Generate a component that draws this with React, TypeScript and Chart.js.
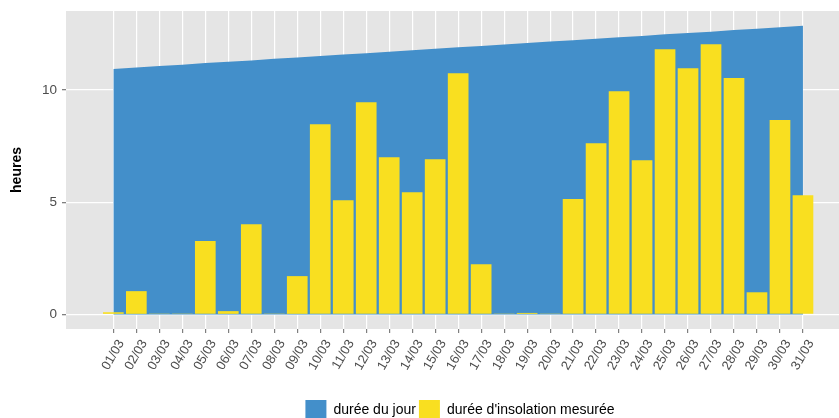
import React, { useEffect, useRef } from 'react';
import { Chart, registerables } from 'chart.js';

Chart.register(...registerables);

const dayLabels = [
  '01/03', '02/03', '03/03', '04/03', '05/03', '06/03', '07/03', '08/03', '09/03', '10/03',
  '11/03', '12/03', '13/03', '14/03', '15/03', '16/03', '17/03', '18/03', '19/03', '20/03',
  '21/03', '22/03', '23/03', '24/03', '25/03', '26/03', '27/03', '28/03', '29/03', '30/03', '31/03',
];

// durée du jour (heures)
const dayLength = [
  10.94, 11.0, 11.07, 11.13, 11.2, 11.26, 11.32, 11.39, 11.45, 11.52,
  11.58, 11.64, 11.71, 11.77, 11.84, 11.9, 11.96, 12.03, 12.09, 12.16,
  12.22, 12.28, 12.35, 12.41, 12.48, 12.54, 12.6, 12.67, 12.73, 12.8, 12.86,
];

// durée d'insolation mesurée (heures)
const sunshine = [
  0.1, 1.04, 0.04, 0.04, 3.27, 0.15, 4.02, 0.04, 1.71, 8.48,
  5.09, 9.46, 7.01, 5.45, 6.92, 10.75, 2.24, 0.04, 0.07, 0.04,
  5.14, 7.63, 9.95, 6.87, 11.82, 10.97, 12.04, 10.53, 0.99, 8.66, 5.31,
];

const yTicks = [0, 5, 10];

const seriesNames = ['durée du jour', "durée d'insolation mesurée"];

const FONT = "'Liberation Sans', Arial, Helvetica, sans-serif";

const panelBg = {
  id: 'panelBg',
  beforeDraw(chart: any) {
    const { ctx, chartArea: a } = chart;
    ctx.save();
    ctx.fillStyle = '#e5e5e5';
    ctx.fillRect(a.left, a.top, a.right - a.left, a.bottom - a.top);
    ctx.restore();
  },
};

export default function App() {
  const ref = useRef<HTMLCanvasElement>(null);

  useEffect(() => {
    const dayIdx = dayLabels.map((_, i) => i);
    const chart = new Chart(ref.current as HTMLCanvasElement, {
      type: 'bar',
      data: {
        datasets: [
          {
            type: 'line',
            label: seriesNames[0],
            data: dayIdx.map((i) => ({ x: i, y: dayLength[i] })),
            backgroundColor: '#438fca',
            borderColor: '#438fca',
            borderWidth: 0,
            pointRadius: 0,
            fill: 'origin',
            tension: 0,
            order: 2,
          } as any,
          {
            type: 'bar',
            label: seriesNames[1],
            data: dayIdx.map((i) => ({ x: i, y: sunshine[i] })),
            backgroundColor: '#f9df20',
            borderWidth: 0,
            categoryPercentage: 1,
            barPercentage: 0.9,
            order: 1,
          } as any,
        ],
      },
      options: {
        animation: false,
        responsive: false,
        devicePixelRatio: 1,
        layout: { padding: { top: 11, left: 0, right: 0, bottom: 0 } },
        plugins: {
          tooltip: { enabled: false },
          legend: {
            position: 'bottom',
            fullSize: false,
            labels: {
              boxWidth: 21,
              boxHeight: 21,
              padding: 3,
              color: '#000000',
              font: { family: FONT, size: 14 },
              sort: (a: any, b: any) => a.datasetIndex - b.datasetIndex,
            },
          },
        },
        scales: {
          x: {
            type: 'linear',
            min: -2.06,
            max: 32.22,
            offset: false,
            afterFit: (s: any) => {
              s.height = 68;
              s.paddingLeft = 0;
              s.paddingRight = 0;
            },
            afterBuildTicks: (s: any) => {
              s.ticks = dayIdx.map((i) => ({ value: i }));
            },
            grid: {
              color: '#ffffff',
              lineWidth: 1.2,
              tickColor: '#7f7f7f',
              tickLength: 4,
              offset: false,
            },
            border: { display: false },
            ticks: {
              autoSkip: false,
              minRotation: 60,
              maxRotation: 60,
              padding: 4,
              labelOffset: 8,
              color: '#4d4d4d',
              font: { family: FONT, size: 13 },
              callback: (v: any) => dayLabels[Math.round(Number(v))],
            },
          },
          y: {
            type: 'linear',
            min: -0.646,
            max: 13.52,
            afterFit: (s: any) => {
              s.width = 66;
              s.paddingTop = 0;
              s.paddingBottom = 0;
            },
            afterBuildTicks: (s: any) => {
              s.ticks = yTicks.map((v) => ({ value: v }));
            },
            grid: {
              color: '#ffffff',
              lineWidth: 1.3,
              tickColor: '#7f7f7f',
              tickLength: 4,
            },
            border: { display: false },
            title: {
              display: true,
              text: 'heures',
              color: '#000000',
              font: { family: FONT, size: 14, weight: 'bold' },
              padding: { top: 9, bottom: 0 },
            },
            ticks: {
              padding: 5,
              color: '#4d4d4d',
              font: { family: FONT, size: 13.5 },
              callback: (v: any) => String(v),
            },
          },
        },
      } as any,
      plugins: [panelBg],
    });
    return () => chart.destroy();
  }, []);

  return (
    <div
      style={{
        position: 'fixed',
        left: 0,
        top: 0,
        width: 839,
        height: 418,
        overflow: 'hidden',
        background: '#ffffff',
      }}
    >
      <canvas ref={ref} width={854} height={431} style={{ display: 'block', width: 854, height: 431 }} />
    </div>
  );
}
